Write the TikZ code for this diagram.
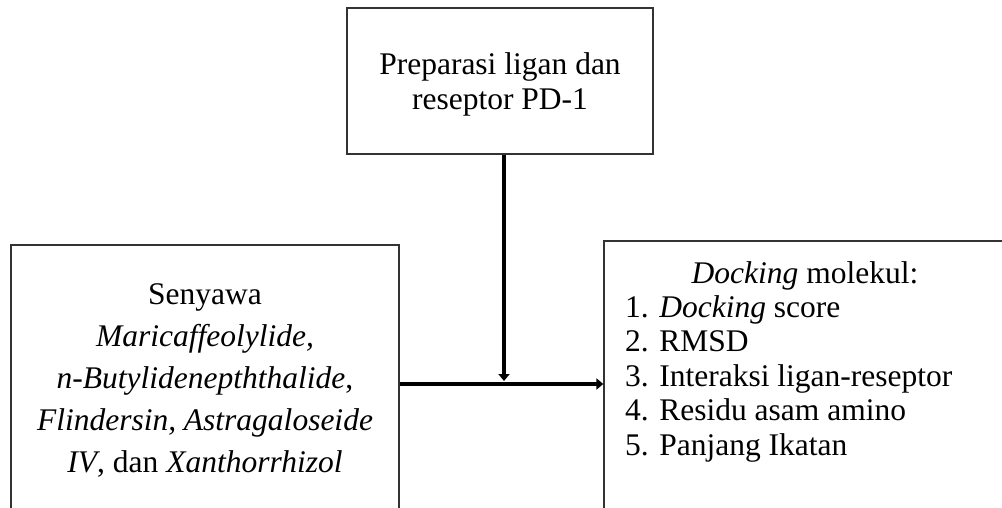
\documentclass[tikz,border=0pt]{standalone}
\usepackage{fontspec}
\setmainfont{Liberation Serif}
\usetikzlibrary{arrows.meta,calc}
\begin{document}
\begin{tikzpicture}[x=1pt,y=-1pt,
  box/.style={draw=black!80,line width=1.3pt,inner sep=0pt,rectangle},
  txt/.style={inner sep=0pt,font=\fontsize{31.5}{35}\selectfont},
  arr/.style={line width=4pt,-{Triangle[length=7pt,width=11pt]}}]
\useasboundingbox (0,0) rectangle (1002,508);
\clip (0,0) rectangle (1002,508);
\fill[white] (0,0) rectangle (1002,508);
% boxes
\node[box,minimum width=306pt,minimum height=146pt] (top) at (500,81) {};
\node[box,minimum width=388pt,minimum height=315pt] (left) at (205,402.5) {};
\node[box,minimum width=406pt,minimum height=319pt] (right) at (807,400.5) {};
% texts (base anchor = baseline of the last line)
\node[txt,align=center,anchor=base] (toptxt) at (500,110) {Preparasi ligan dan\\reseptor PD-1};
\node[txt,align=center,anchor=base,font=\fontsize{31.5}{42}\selectfont] (lefttxt) at (205,472)
  {Senyawa\\\textit{Maricaffeolylide,}\\\textit{n-Butylidenepththalide},\\\textit{Flindersin, Astragaloseide}\\\textit{IV}, dan \textit{Xanthorrhizol}};
\node[txt,anchor=base] (head) at (805,283) {\textit{Docking} molekul:};
\node[txt,align=left,anchor=base west,font=\fontsize{31.5}{34.4}\selectfont] (list) at (625,455)
  {1. \textit{Docking} score\\2. RMSD\\3. Interaksi ligan-reseptor\\4. Residu asam amino\\5. Panjang Ikatan};
% connectors
\coordinate (vend) at (504,381);
\coordinate (hy) at (0,384);
\draw[arr] (top.south -| vend) -- (vend);
\draw[arr] (left.east |- hy) -- (right.west |- hy);
\end{tikzpicture}
\end{document}
